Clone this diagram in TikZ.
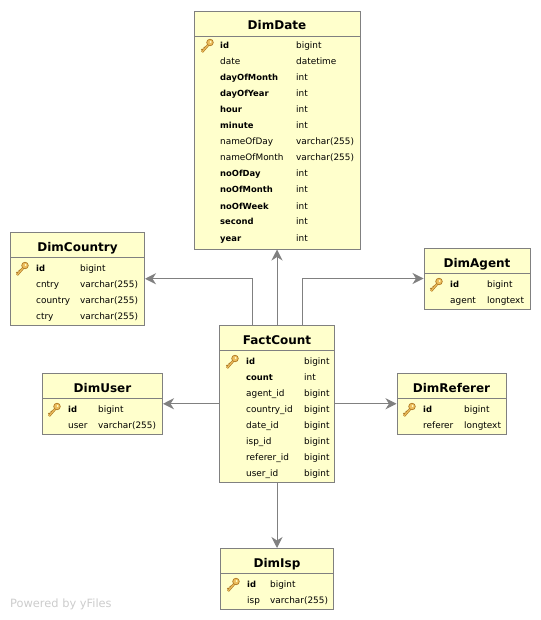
\documentclass[tikz,border=0pt]{standalone}
\usepackage{fontspec}
\setmainfont{DejaVu Sans}
\usetikzlibrary{arrows.meta}
\definecolor{tablefill}{HTML}{FFFFCC}
\definecolor{tableedge}{HTML}{808080}
\definecolor{keygold}{HTML}{EDBE5E}
\definecolor{keydark}{HTML}{B07A24}
\tikzset{
  tablebox/.style={draw=tableedge, fill=tablefill, line width=1pt, inner sep=0pt},
  headrule/.style={draw=tableedge, line width=1pt},
  tabletitle/.style={anchor=base, inner sep=0pt, font=\fontsize{12}{14}\selectfont\bfseries},
  keyname/.style={anchor=base west, inner sep=0pt, font=\fontsize{8.4}{10}\selectfont\bfseries},
  fieldname/.style={anchor=base west, inner sep=0pt, font=\fontsize{8.9}{10}\selectfont},
  fieldtype/.style={anchor=base west, inner sep=0pt, font=\fontsize{8.9}{10}\selectfont},
  link/.style={draw=tableedge, line width=1pt, -{Stealth[length=11pt, width=11pt, inset=3.5pt]}},
  keyicon/.pic={
    \draw[keydark, line width=2.4pt] (-5,6)--(2,-2);
    \draw[keydark, line width=1.6pt] (-5.5,3)--(-3.5,5);
    \draw[keydark, line width=1.4pt] (-3,1)--(-1.4,2.8);
    \draw[keygold, line width=1.1pt] (-5,6)--(2,-2);
    \filldraw[draw=keydark, fill=keygold, line width=0.7pt] (3,-3.5) circle (3.3);
    \fill[tablefill] (3.6,-4.1) circle (1);
  }
}
\begin{document}
\begin{tikzpicture}[x=1pt, y=-1pt]
  \useasboundingbox (0,0) rectangle (540,620);

  \node[tablebox, minimum width=166pt, minimum height=237pt] (dimDate) at (277,130.5) {};
  \draw[headrule] (194,37)--(360,37);
  \node[tabletitle] (dateTitle) at (277,29.5) {DimDate};
  \pic at (207,46) {keyicon};
  \node[keyname] (dateId) at (220,49) {id};
  \node[fieldtype] (dateIdType) at (296,49) {bigint};
  \node[fieldname] (dateDate) at (220,65) {date};
  \node[fieldtype] (dateDateType) at (296,65) {datetime};
  \node[keyname] (dateDayOfMonth) at (220,81) {dayOfMonth};
  \node[fieldtype] (dateDayOfMonthType) at (296,81) {int};
  \node[keyname] (dateDayOfYear) at (220,97) {dayOfYear};
  \node[fieldtype] (dateDayOfYearType) at (296,97) {int};
  \node[keyname] (dateHour) at (220,113) {hour};
  \node[fieldtype] (dateHourType) at (296,113) {int};
  \node[keyname] (dateMinute) at (220,129) {minute};
  \node[fieldtype] (dateMinuteType) at (296,129) {int};
  \node[fieldname] (dateNameOfDay) at (220,145) {nameOfDay};
  \node[fieldtype] (dateNameOfDayType) at (296,145) {varchar(255)};
  \node[fieldname] (dateNameOfMonth) at (220,161) {nameOfMonth};
  \node[fieldtype] (dateNameOfMonthType) at (296,161) {varchar(255)};
  \node[keyname] (dateNoOfDay) at (220,177) {noOfDay};
  \node[fieldtype] (dateNoOfDayType) at (296,177) {int};
  \node[keyname] (dateNoOfMonth) at (220,193) {noOfMonth};
  \node[fieldtype] (dateNoOfMonthType) at (296,193) {int};
  \node[keyname] (dateNoOfWeek) at (220,209) {noOfWeek};
  \node[fieldtype] (dateNoOfWeekType) at (296,209) {int};
  \node[keyname] (dateSecond) at (220,225) {second};
  \node[fieldtype] (dateSecondType) at (296,225) {int};
  \node[keyname] (dateYear) at (220,241) {year};
  \node[fieldtype] (dateYearType) at (296,241) {int};

  \node[tablebox, minimum width=134pt, minimum height=92.5pt] (dimCountry) at (77.5,278.75) {};
  \draw[headrule] (10.5,257.5)--(144.5,257.5);
  \node[tabletitle] (countryTitle) at (77.5,251) {DimCountry};
  \pic at (22,269) {keyicon};
  \node[keyname] (countryId) at (36,271) {id};
  \node[fieldtype] (countryIdType) at (80,271) {bigint};
  \node[fieldname] (countryCntry) at (36,287) {cntry};
  \node[fieldtype] (countryCntryType) at (80,287) {varchar(255)};
  \node[fieldname] (countryCountry) at (36,303) {country};
  \node[fieldtype] (countryCountryType) at (80,303) {varchar(255)};
  \node[fieldname] (countryCtry) at (36,319) {ctry};
  \node[fieldtype] (countryCtryType) at (80,319) {varchar(255)};

  \node[tablebox, minimum width=106pt, minimum height=61pt] (dimAgent) at (477,278.5) {};
  \draw[headrule] (424,273.5)--(530,273.5);
  \node[tabletitle] (agentTitle) at (477,267) {DimAgent};
  \pic at (436,285) {keyicon};
  \node[keyname] (agentId) at (450,287) {id};
  \node[fieldtype] (agentIdType) at (487,287) {bigint};
  \node[fieldname] (agentAgent) at (450,303) {agent};
  \node[fieldtype] (agentAgentType) at (487,303) {longtext};

  \node[tablebox, minimum width=115pt, minimum height=157pt] (factCount) at (277,403.75) {};
  \draw[headrule] (219.5,350.5)--(334.5,350.5);
  \node[tabletitle] (factTitle) at (277,344) {FactCount};
  \pic at (232,362) {keyicon};
  \node[keyname] (factId) at (246,364) {id};
  \node[fieldtype] (factIdType) at (304,364) {bigint};
  \node[keyname] (factCountField) at (246,380) {count};
  \node[fieldtype] (factCountType) at (304,380) {int};
  \node[fieldname] (factAgentId) at (246,396) {agent\_id};
  \node[fieldtype] (factAgentIdType) at (304,396) {bigint};
  \node[fieldname] (factCountryId) at (246,412) {country\_id};
  \node[fieldtype] (factCountryIdType) at (304,412) {bigint};
  \node[fieldname] (factDateId) at (246,428) {date\_id};
  \node[fieldtype] (factDateIdType) at (304,428) {bigint};
  \node[fieldname] (factIspId) at (246,444) {isp\_id};
  \node[fieldtype] (factIspIdType) at (304,444) {bigint};
  \node[fieldname] (factRefererId) at (246,460) {referer\_id};
  \node[fieldtype] (factRefererIdType) at (304,460) {bigint};
  \node[fieldname] (factUserId) at (246,476) {user\_id};
  \node[fieldtype] (factUserIdType) at (304,476) {bigint};

  \node[tablebox, minimum width=120pt, minimum height=60.5pt] (dimUser) at (102.5,403.75) {};
  \draw[headrule] (42.5,398.5)--(162.5,398.5);
  \node[tabletitle] (userTitle) at (102.5,392) {DimUser};
  \pic at (54,410) {keyicon};
  \node[keyname] (userId) at (68,412) {id};
  \node[fieldtype] (userIdType) at (98,412) {bigint};
  \node[fieldname] (userUser) at (68,428) {user};
  \node[fieldtype] (userUserType) at (98,428) {varchar(255)};

  \node[tablebox, minimum width=109pt, minimum height=60.5pt] (dimReferer) at (451.5,403.75) {};
  \draw[headrule] (397,398.5)--(506,398.5);
  \node[tabletitle] (refererTitle) at (451.5,392) {DimReferer};
  \pic at (409,410) {keyicon};
  \node[keyname] (refererId) at (423,412) {id};
  \node[fieldtype] (refererIdType) at (464,412) {bigint};
  \node[fieldname] (refererReferer) at (423,428) {referer};
  \node[fieldtype] (refererRefererType) at (464,428) {longtext};

  \node[tablebox, minimum width=113pt, minimum height=60.5pt] (dimIsp) at (277,578.75) {};
  \draw[headrule] (220.5,573.5)--(333.5,573.5);
  \node[tabletitle] (ispTitle) at (277,567) {DimIsp};
  \pic at (233,585) {keyicon};
  \node[keyname] (ispId) at (247,587) {id};
  \node[fieldtype] (ispIdType) at (270,587) {bigint};
  \node[fieldname] (ispIsp) at (247,603) {isp};
  \node[fieldtype] (ispIspType) at (270,603) {varchar(255)};

  \draw[link] (factCount.north) -- (dimDate.south);
  \draw[link] ([xshift=-25pt]factCount.north) |- (dimCountry.east);
  \draw[link] ([xshift=25pt]factCount.north) |- (dimAgent.west);
  \draw[link] (factCount.west) -- (dimUser.east);
  \draw[link] (factCount.east) -- (dimReferer.west);
  \draw[link] (factCount.south) -- (dimIsp.north);

  \node[anchor=base west, inner sep=0pt, text=black!20, font=\fontsize{11.4}{13}\selectfont] (poweredBy) at (10,607) {Powered by yFiles};
\end{tikzpicture}
\end{document}
